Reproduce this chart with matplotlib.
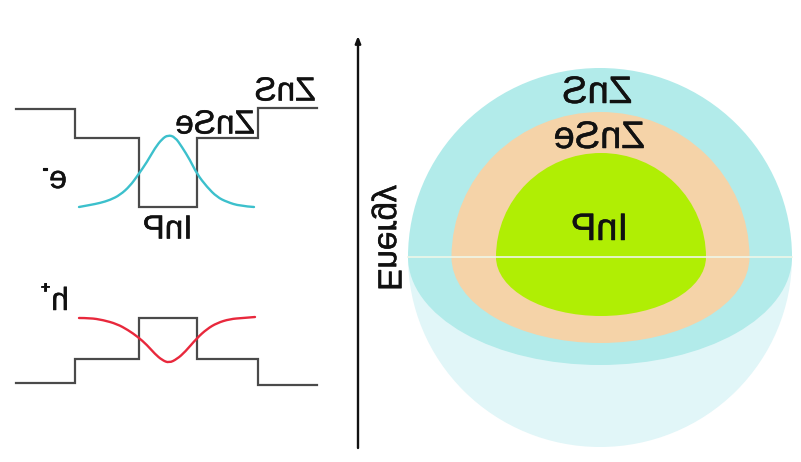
import matplotlib
matplotlib.use("Agg")
import matplotlib.pyplot as plt
import matplotlib.patheffects as pe
from matplotlib.patches import Ellipse, Rectangle, PathPatch
from matplotlib.path import Path

plt.rcParams['font.family'] = ['Liberation Sans', 'DejaVu Sans']

# band diagram (pixel scale of the reference)
cb_x = [16, 75, 75, 139, 139, 197, 197, 258, 258, 317]
cb_y = [109, 109, 138, 138, 207, 207, 138, 138, 108, 108]
vb_x = [16, 75, 75, 139, 139, 197, 197, 258, 258, 317]
vb_y = [383, 383, 359, 359, 318, 318, 359, 359, 385, 385]

e_x = [79, 90, 100, 110, 120, 130, 138, 147, 155, 162, 168, 175, 182, 190, 197, 207, 217, 227, 240, 254]
e_y = [207, 205, 203, 200, 195, 186, 175, 162, 148, 139, 135, 137, 147, 160, 174, 187, 197, 202, 206, 207]

h_x = [79, 90, 103, 117, 128, 138, 147, 155, 162, 169, 177, 185, 197, 207, 217, 230, 243, 255]
h_y = [318, 318, 320, 324, 330, 337, 345, 354, 360, 363, 359, 352, 338, 329, 323, 319, 318, 317]

# sphere layers: name, half width, height above and below the equator
layers = ['ZnS', 'ZnSe', 'InP']
half_width = [192, 149, 105]
above = [189, 145, 104]
below = [108, 86, 59]
layer_centre = [600, 600.5, 601]
layer_colors = ['#b2ebea', '#f5d3a8', '#b0ee04']
equator_y = 257
lower_depth = 190

fig = plt.figure(figsize=(8.01, 4.62), dpi=100)
ax = fig.add_axes([0, 0, 1, 1])
ax.set_xlim(0, 801)
ax.set_ylim(462, 0)
ax.axis('off')


def half(cx, a, b, color, upper, z):
    e = Ellipse((cx, equator_y), 2 * a, 2 * b, fc=color, ec='none', zorder=z)
    ax.add_patch(e)
    if upper:
        clip = Rectangle((0, 0), 801, equator_y, transform=ax.transData)
    else:
        clip = Rectangle((0, equator_y), 801, 462 - equator_y, transform=ax.transData)
    e.set_clip_path(clip)


def smooth(xs, ys, color):
    # quadratic curve with the read points as control points
    verts = [(xs[0], ys[0])]
    codes = [Path.MOVETO]
    for i in range(1, len(xs) - 1):
        verts.append((xs[i], ys[i]))
        codes.append(Path.CURVE3)
        if i < len(xs) - 2:
            verts.append(((xs[i] + xs[i + 1]) / 2, (ys[i] + ys[i + 1]) / 2))
        else:
            verts.append((xs[-1], ys[-1]))
        codes.append(Path.CURVE3)
    ax.add_patch(PathPatch(Path(verts, codes), fc='none', ec=color, lw=1.7,
                           capstyle='round', zorder=4))


half(layer_centre[0], half_width[0], lower_depth, '#e1f6f8', False, 1)
for i in range(3):
    half(layer_centre[i], half_width[i], above[i], layer_colors[i], True, 2 + i)
    half(layer_centre[i], half_width[i], below[i], layer_colors[i], False, 2 + i)
ax.plot([408, 792], [equator_y, equator_y], color='#eef6e8', lw=1.2, zorder=6)

line_kw = dict(color='#4a4a4a', lw=1.6, solid_joinstyle='miter', zorder=3)
ax.plot(cb_x, cb_y, **line_kw)
ax.plot(vb_x, vb_y, **line_kw)
smooth(e_x, e_y, '#3cc0cc')
smooth(h_x, h_y, '#e8283c')

ax.annotate('', xy=(358, 36), xytext=(358, 448),
            arrowprops=dict(arrowstyle='-|>,head_width=0.16,head_length=0.4',
                            color='#111111', lw=1.7, shrinkA=0, shrinkB=0))


def mirror(img, dpi):
    return img[:, ::-1].copy(), 0, 0


def label(x, y, s, size, rotation=0, stroke=0.35):
    t = ax.text(x, y, s, fontsize=size, ha='center', va='center', rotation=rotation,
                color='#111111', zorder=10)
    t.set_path_effects([pe.withStroke(linewidth=stroke, foreground='#111111')])
    t.set_agg_filter(mirror)
    return t


label(285, 92, 'ZnS', 24)
label(215, 125, 'ZnSe', 24)
label(166.5, 230, 'InP', 24)
label(58, 180, 'e', 23)
label(45, 169, '-', 12, stroke=0.8)
label(60, 302, 'h', 23)
label(45, 288, '+', 11, stroke=0.6)
label(598, 93, layers[0], 27.5)
label(599, 138, layers[1], 27.5)
label(597.5, 230, layers[2], 27.5)
label(386, 238, 'Energy', 24, rotation=90)

fig.savefig('out.png', dpi=100)
